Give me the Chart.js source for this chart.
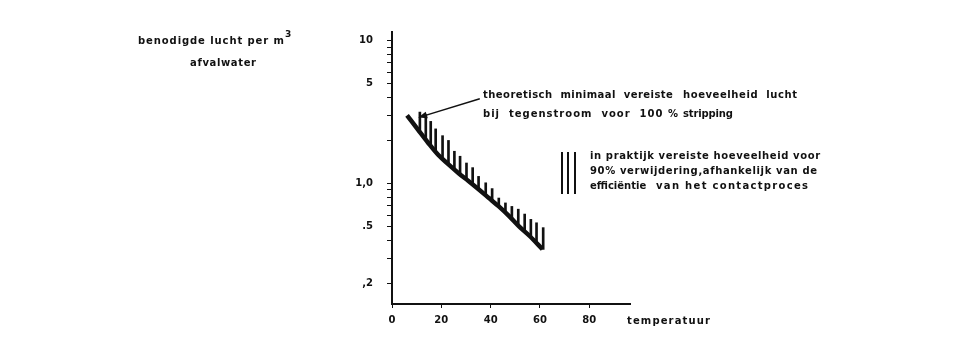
<!DOCTYPE html>
<html>
<head>
<meta charset="utf-8">
<script src="https://cdn.jsdelivr.net/npm/chart.js@4/dist/chart.umd.min.js"></script>
<style>
    html, body { margin: 0; padding: 0; background: #fff; }
    #wrap { width: 960px; height: 348px; position: relative; }
</style>
</head>
<body>
<div id="wrap"><canvas id="chart" width="960" height="348"></canvas></div>
<script>
// theoretical minimum curve (temperature -> air per m3)
let curveX = [6.1, 10.6, 14.7, 18.8, 22.9, 27, 31, 35.1, 39.3, 43.3, 47.5, 51.5, 55.7, 61];
let curveY = [3.0, 2.37, 1.92, 1.58, 1.36, 1.18, 1.04, 0.91, 0.79, 0.69, 0.59, 0.50, 0.43, 0.346];

// hatching: practical requirement range
let hatchX = [11.3, 13.7, 15.7, 17.7, 20.5, 22.9, 25.3, 27.6, 30.2, 32.7, 35.1, 38, 40.6, 43.3, 46, 48.6, 51.2, 53.8, 56.3, 58.6, 61.3];
let hatchLow = [2.3, 2.03, 1.84, 1.67, 1.48, 1.36, 1.25, 1.16, 1.07, 0.98, 0.91, 0.83, 0.76, 0.69, 0.62, 0.57, 0.51, 0.46, 0.42, 0.385, 0.345];
let hatchHigh = [3.16, 3.03, 2.72, 2.41, 2.16, 2.0, 1.68, 1.55, 1.39, 1.29, 1.12, 1.01, 0.92, 0.79, 0.73, 0.69, 0.66, 0.61, 0.56, 0.53, 0.49];

// axes
let xTicks = [0, 20, 40, 60, 80];
let yTicks = [0.2, 0.3, 0.4, 0.5, 0.6, 0.7, 0.8, 0.9, 1, 2, 3, 4, 5, 6, 7, 8, 9, 10];
let yTickLabels = [',2', '', '', '.5', '', '', '', '', '1,0', '', '', '', '5', '', '', '', '', '10'];

// arrow from the annotation to the curve (data coordinates)
let arrowFrom = [35.6, 3.92];
let arrowTo = [10.6, 2.89];

const FONT = '"DejaVu Sans", "Liberation Sans", sans-serif';
const INK = '#111';

/**
 * draw text stretched to a given width with letter spacing
 */
let fitText = function (ctx, text, x, y, w) {
    ctx.letterSpacing = '0px';
    let m = ctx.measureText(text).width;
    let ls = (w - m) / Math.max(1, text.length - 1);
    ctx.letterSpacing = ls.toFixed(2) + 'px';
    ctx.fillText(text, x, y);
    ctx.letterSpacing = '0px';
};

let notes = {
    id: 'notes',
    afterDraw: function (chart) {
        let ctx = chart.ctx;
        let xs = chart.scales.x, ys = chart.scales.y;
        ctx.save();
        ctx.fillStyle = INK;
        ctx.strokeStyle = INK;
        ctx.textBaseline = 'middle';
        ctx.textAlign = 'left';

        // y axis title
        ctx.font = 'bold 10px ' + FONT;
        fitText(ctx, 'benodigde lucht per m', 138, 41, 146);
        ctx.font = 'bold 9px ' + FONT;
        ctx.fillText('3', 285, 35);
        ctx.font = 'bold 10px ' + FONT;
        fitText(ctx, 'afvalwater', 190, 63, 66);

        // x axis title
        fitText(ctx, 'temperatuur', 627, 321, 83);

        // arrow annotation
        fitText(ctx, 'theoretisch  minimaal  vereiste', 483, 95, 190);
        fitText(ctx, 'hoeveelheid  lucht', 683, 95, 114);
        fitText(ctx, 'bij  tegenstroom  voor  100 %', 483, 114, 195);
        fitText(ctx, 'stripping', 683, 114, 50);

        let x1 = xs.getPixelForValue(arrowFrom[0]), y1 = ys.getPixelForValue(arrowFrom[1]);
        let x2 = xs.getPixelForValue(arrowTo[0]), y2 = ys.getPixelForValue(arrowTo[1]);
        let a = Math.atan2(y2 - y1, x2 - x1);
        ctx.lineWidth = 1.5;
        ctx.beginPath();
        ctx.moveTo(x1, y1);
        ctx.lineTo(x2 - 6 * Math.cos(a), y2 - 6 * Math.sin(a));
        ctx.stroke();
        ctx.beginPath();
        ctx.moveTo(x2, y2);
        ctx.lineTo(x2 - 9 * Math.cos(a) + 3.5 * Math.sin(a), y2 - 9 * Math.sin(a) - 3.5 * Math.cos(a));
        ctx.lineTo(x2 - 9 * Math.cos(a) - 3.5 * Math.sin(a), y2 - 9 * Math.sin(a) + 3.5 * Math.cos(a));
        ctx.closePath();
        ctx.fill();

        // hatch legend
        ctx.lineWidth = 2;
        [562, 568, 575].forEach(function (lx) {
            ctx.beginPath();
            ctx.moveTo(lx, 152);
            ctx.lineTo(lx, 194);
            ctx.stroke();
        });
        fitText(ctx, 'in praktijk vereiste hoeveelheid voor', 590, 156, 230);
        fitText(ctx, '90% verwijdering,afhankelijk van de', 590, 171, 227);
        ctx.fillText('efficiëntie', 590, 186);
        fitText(ctx, 'van het contactproces', 656, 186, 152);
        ctx.restore();
    }
};

let ctx = document.getElementById('chart').getContext('2d');
let chart = new Chart(ctx, {
    type: 'line',
    data: {
        datasets: [
            {
                type: 'line',
                data: curveX.map(function (x, i) { return {x: x, y: curveY[i]}; }),
                borderColor: INK,
                borderWidth: 4.5,
                pointRadius: 0,
                cubicInterpolationMode: 'monotone',
                order: 0
            },
            {
                type: 'bar',
                data: hatchX.map(function (x, i) { return {x: x, y: [hatchLow[i], hatchHigh[i]]}; }),
                backgroundColor: INK,
                barThickness: 2,
                order: 1
            }
        ]
    },
    options: {
        responsive: false,
        animation: false,
        layout: {padding: {left: 0, right: 330, top: 32, bottom: 0}},
        plugins: {
            legend: {display: false},
            tooltip: {enabled: false}
        },
        scales: {
            x: {
                type: 'linear',
                min: 0,
                max: 96.5,
                offset: false,
                afterBuildTicks: function (s) {
                    s.ticks = xTicks.map(function (v) { return {value: v}; });
                },
                afterFit: function (s) { s.height = 44; },
                grid: {drawOnChartArea: false, offset: false, color: INK, tickLength: 4},
                border: {color: INK, width: 2},
                ticks: {
                    color: INK,
                    padding: 6,
                    maxRotation: 0,
                    font: {family: FONT, size: 10, weight: 'bold'}
                }
            },
            y: {
                type: 'logarithmic',
                min: 0.143,
                max: 11.5,
                afterBuildTicks: function (s) {
                    s.ticks = yTicks.map(function (v) { return {value: v}; });
                },
                afterFit: function (s) { s.width = 392; },
                grid: {drawOnChartArea: false, color: INK, tickLength: 5},
                border: {color: INK, width: 2},
                ticks: {
                    autoSkip: false,
                    color: INK,
                    padding: 14,
                    font: {family: FONT, size: 10, weight: 'bold'},
                    callback: function (value, index) { return yTickLabels[index]; }
                }
            }
        }
    },
    plugins: [notes]
});
</script>
</body>
</html>
